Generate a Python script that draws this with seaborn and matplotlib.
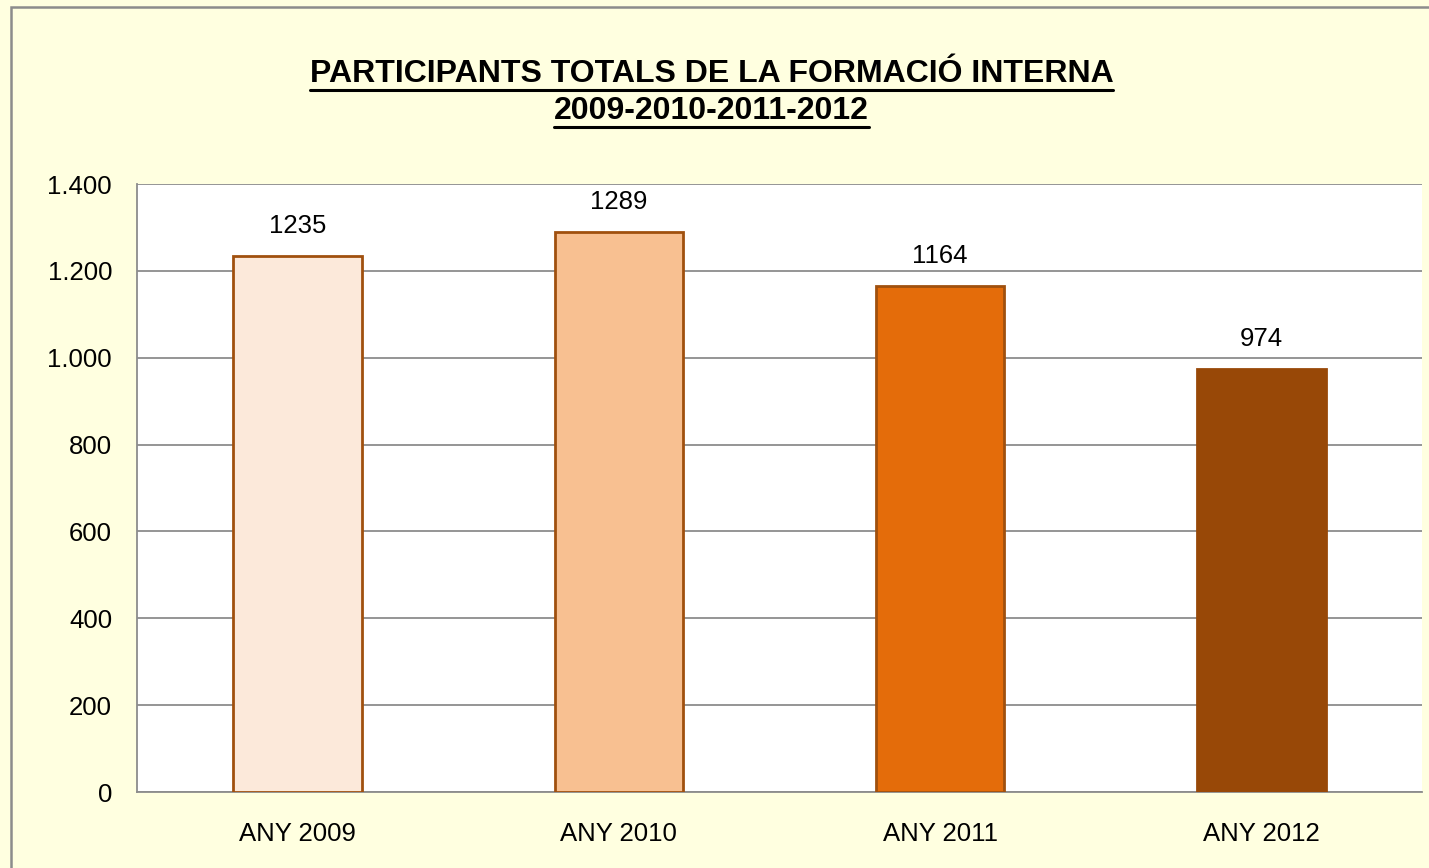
import matplotlib
matplotlib.use("Agg")
import matplotlib.pyplot as plt
import seaborn as sns
import pandas as pd
from matplotlib.patches import Rectangle
from matplotlib.lines import Line2D
from matplotlib.ticker import FuncFormatter

categories = ["ANY 2009", "ANY 2010", "ANY 2011", "ANY 2012"]
values = [1235, 1289, 1164, 974]
bar_colors = ["#FCE9DA", "#F8C091", "#E46C0A", "#984807"]
edge_colors = ["#A0500E", "#A0500E", "#A0500E", "#984807"]
title_lines = ["PARTICIPANTS TOTALS DE LA FORMACIÓ INTERNA", "2009-2010-2011-2012"]

sns.set_theme(style="white")
plt.rcParams["font.family"] = ["Liberation Sans", "DejaVu Sans"]

W, H = 1429, 868
fig = plt.figure(figsize=(W / 100, H / 100), dpi=100)
fig.patch.set_facecolor("#FFFFE0")

# outer chart border
fig.add_artist(Rectangle((11 / W, -0.1), 1.2, 1 - 7 / H + 0.1, transform=fig.transFigure,
                         fill=False, edgecolor="#8C8C8C", linewidth=1.8))

ax = fig.add_axes([137 / W, 1 - 792 / H, (1422 - 137) / W, (792 - 184) / H])
ax.set_facecolor("white")

df = pd.DataFrame({"cat": categories, "val": values})
sns.barplot(data=df, x="cat", y="val", hue="cat", palette=bar_colors, width=0.4,
            legend=False, ax=ax, saturation=1)

for i, p in enumerate(ax.patches):
    p.set_edgecolor(edge_colors[i])
    p.set_linewidth(2)
    p.set_zorder(3)

for c in ax.containers:
    ax.bar_label(c, padding=13, fontsize=18.5, color="black")

ax.set_ylim(0, 1400)
ax.set_yticks(range(0, 1401, 200))
ax.yaxis.set_major_formatter(FuncFormatter(lambda v, _: f"{int(v):,}".replace(",", ".")))
ax.set_xlim(-0.5, 3.5)
ax.grid(axis="y", color="#8C8C8C", linewidth=1.3)
ax.set_axisbelow(True)
ax.set_xlabel("")
ax.set_ylabel("")
ax.tick_params(axis="both", length=0, labelsize=18.5, colors="black")
ax.tick_params(axis="y", pad=18)
ax.tick_params(axis="x", pad=21.5)
for s in ["top", "right"]:
    ax.spines[s].set_visible(False)
for s in ["left", "bottom"]:
    ax.spines[s].set_color("#8C8C8C")
    ax.spines[s].set_linewidth(1.3)

# title with underline
cx = (311 + 1112) / 2 / W
t1 = fig.text(cx, 1 - 74 / H, title_lines[0], ha="center", va="center",
              fontsize=23, fontweight="bold", color="black")
t2 = fig.text(cx, 1 - 111 / H, title_lines[1], ha="center", va="center",
              fontsize=23, fontweight="bold", color="black")
fig.canvas.draw()
r = fig.canvas.get_renderer()
for t, uy in ((t1, 90), (t2, 127)):
    bb = t.get_window_extent(renderer=r)
    fig.add_artist(Line2D([bb.x0 / W, bb.x1 / W], [1 - uy / H, 1 - uy / H],
                          transform=fig.transFigure, color="black", linewidth=2.2))

fig.savefig("out.png", dpi=100, facecolor=fig.get_facecolor())
